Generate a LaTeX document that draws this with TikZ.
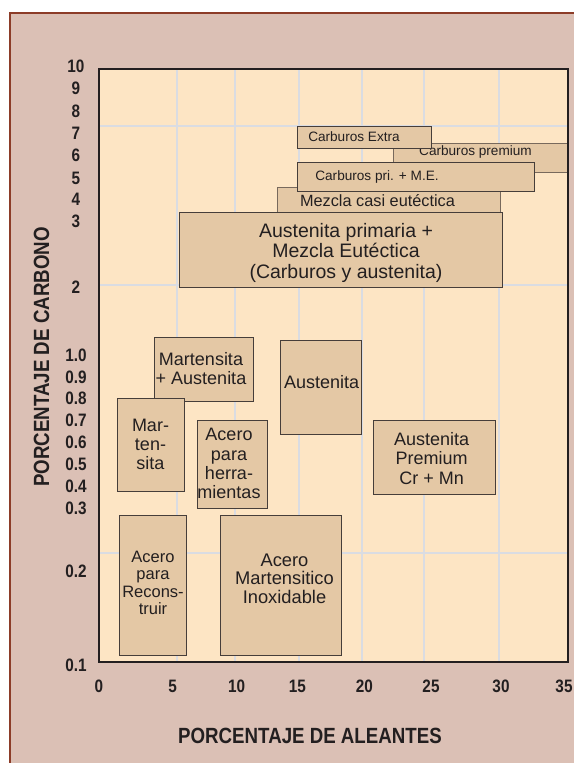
\documentclass[tikz,border=0pt]{standalone}
\usepackage{fontspec}
\setmainfont{Liberation Sans}
\newfontfamily\condb{Liberation Sans}[FakeStretch=0.85]
\definecolor{outerbg}{RGB}{219,192,181}
\definecolor{framec}{RGB}{140,60,40}
\definecolor{plotbg}{RGB}{253,229,196}
\definecolor{gridc}{RGB}{218,220,226}
\definecolor{boxfill}{RGB}{228,200,165}
\definecolor{ink}{RGB}{35,31,32}
\definecolor{boxline}{RGB}{70,62,58}
\definecolor{boxlinelt}{RGB}{120,105,92}
\begin{document}
\begin{tikzpicture}[x=1pt,y=-1pt,
  box/.style={draw=boxline, fill=boxfill, line width=1pt, inner sep=0pt, anchor=north west},
  lbl/.style={text=ink, align=center, inner sep=0pt, font=\fontsize{18}{19}\selectfont},
  ticklbl/.style={text=ink, inner sep=0pt, font=\condb\bfseries\fontsize{18}{18}\selectfont},
  axtitle/.style={text=ink, inner sep=0pt, font=\condb\bfseries\fontsize{22}{22}\selectfont},
  gridline/.style={draw=gridc, line width=1.5pt}]
\useasboundingbox (0,0) rectangle (574,763);
\fill[white] (0,0) rectangle (574,763);
\fill[outerbg] (10,13) rectangle (574,763);
\draw[framec, line width=1.5pt] (10,763) -- (10,13) -- (574,13);
% plot area
\fill[plotbg] (99,69) rectangle (568,662);
\foreach \gx in {177,235,299,362,424,499} \draw[gridline] (\gx,69) -- (\gx,662);
\foreach \gy in {126,285,553} \draw[gridline] (99,\gy) -- (568,\gy);
% upper boxes
\node[box, draw=boxlinelt, minimum width=175pt, minimum height=29pt] (bprem) at (393,143) {};
\node[lbl, font=\fontsize{13.6}{14}\selectfont] (tprem) at (475.5,152) {Carburos premium};
\node[box, minimum width=134pt, minimum height=22pt] (bextra) at (297,126) {};
\node[lbl, font=\fontsize{13.6}{14}\selectfont] (textra) at (354,137) {Carburos Extra};
\node[box, draw=boxlinelt, minimum width=223pt, minimum height=28pt] (bcasi) at (277,187) {};
\node[lbl, font=\fontsize{16.3}{17}\selectfont] (tcasi) at (377.5,201) {Mezcla casi eutéctica};
\node[box, minimum width=237pt, minimum height=29pt] (bpri) at (297,162) {};
\node[lbl, font=\fontsize{13.6}{14}\selectfont] (tpri) at (377,176.5) {Carburos pri. + M.E.};
\node[box, minimum width=323pt, minimum height=75pt] (bprim) at (179,212) {};
\node[lbl, font=\fontsize{19.5}{20.5}\selectfont] (tprim) at (346,252.5) {Austenita primaria +\\Mezcla Eutéctica\\(Carburos y austenita)};
% middle boxes
\node[box, minimum width=99pt, minimum height=64pt] (bma) at (154,337) {};
\node[lbl] (tma) at (201,368.5) {Martensita\\+ Austenita};
\node[box, minimum width=67pt, minimum height=93pt] (bmart) at (117,398) {};
\node[lbl, font=\fontsize{18}{19.2}\selectfont] (tmart) at (150.5,444.5) {Mar-\\ten-\\sita};
\node[box, minimum width=70pt, minimum height=88pt] (bherr) at (197,420) {};
\node[lbl, font=\fontsize{18}{19.1}\selectfont] (therr) at (229,463.5) {Acero\\para\\herra-\\mientas};
\node[box, minimum width=81pt, minimum height=94pt] (baus) at (280,340) {};
\node[lbl] (taus) at (321.7,382) {Austenita};
\node[box, minimum width=122pt, minimum height=74pt] (bausp) at (373,420) {};
\node[lbl, font=\fontsize{18}{19.2}\selectfont] (tausp) at (431.7,458.5) {Austenita\\Premium\\Cr + Mn};
% lower boxes
\node[box, minimum width=67pt, minimum height=140pt] (brec) at (119,515) {};
\node[lbl, font=\fontsize{16.5}{17.4}\selectfont] (trec) at (153,583) {Acero\\para\\Recons-\\truir};
\node[box, minimum width=121pt, minimum height=140pt] (binox) at (220,515) {};
\node[lbl, font=\fontsize{18.3}{18.7}\selectfont] (tinox) at (284.5,578.5) {Acero\\Martensitico\\Inoxidable};
% plot frame
\draw[ink, line width=2.5pt] (99,69) rectangle (568,662);
% y tick labels
\foreach \lab/\yy [count=\i] in {10/66,9/88,8/111,7/133,6/155,5/178,4/199,3/221,2/287,1.0/355,0.9/377,0.8/398,0.7/420,0.6/442,0.5/464,0.4/486,0.3/508,0.2/571,0.1/665}
  \node[ticklbl] (ytick\i) at (76,\yy) {\lab};
% x tick labels
\foreach \lab/\xx [count=\i] in {0/99,5/172.7,10/236.7,15/297.3,20/364.3,25/431,30/501,35/564}
  \node[ticklbl] (xtick\i) at (\xx,686) {\lab};
% axis titles
\node[axtitle] (xtitle) at (310,736) {PORCENTAJE DE ALEANTES};
\node[axtitle, rotate=90] (ytitle) at (41.5,357) {PORCENTAJE DE CARBONO};
\end{tikzpicture}
\end{document}
